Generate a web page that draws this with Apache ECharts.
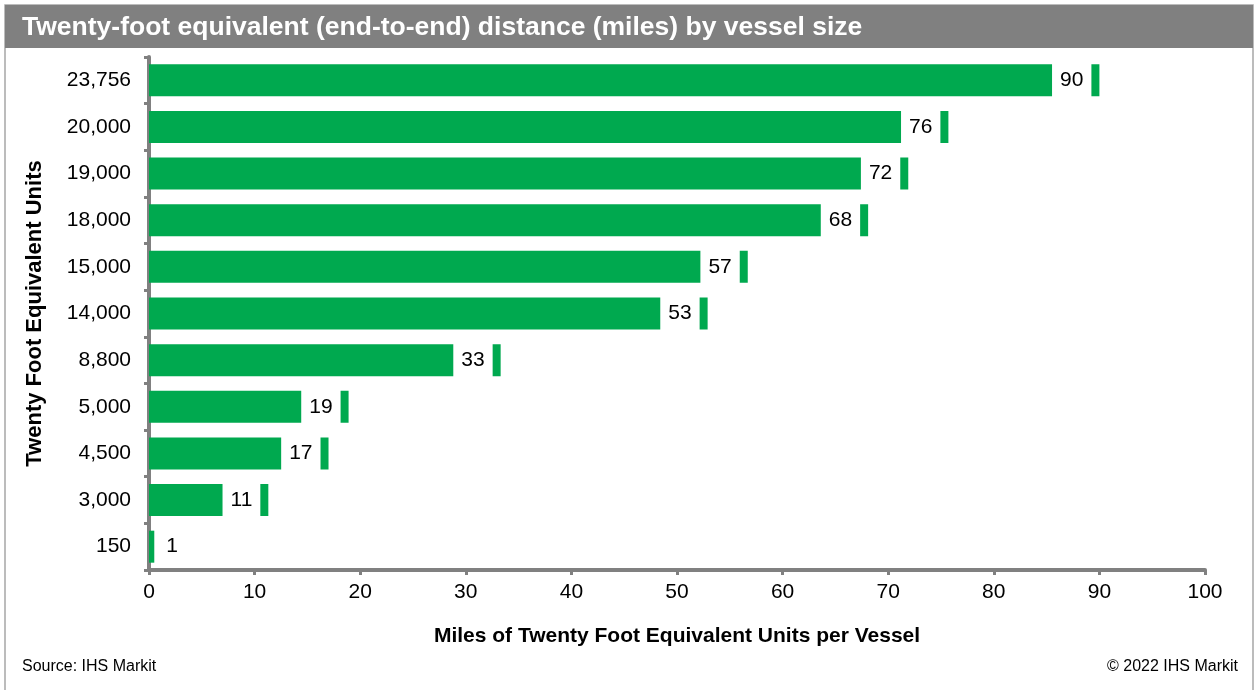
<!DOCTYPE html>
<html>
<head>
<meta charset="utf-8">
<script src="https://cdn.jsdelivr.net/npm/echarts@6/dist/echarts.min.js"></script>
<style>
html,body{margin:0;padding:0;background:#fff;}
#chart{width:1259px;height:690px;}
</style>
</head>
<body>
<div id="chart"></div>
<script>
const titleText = 'Twenty-foot equivalent (end-to-end) distance (miles) by vessel size';
const categories = ['23,756','20,000','19,000','18,000','15,000','14,000','8,800','5,000','4,500','3,000','150'];
const milesValues = [90.0, 75.7, 71.9, 68.1, 56.7, 52.9, 33.3, 18.9, 17.0, 11.3, 0.5];
const xTicks = {min: 0, max: 100, interval: 10};
const xAxisName = 'Miles of Twenty Foot Equivalent Units per Vessel';
const yAxisName = 'Twenty Foot Equivalent Units';
const sourceText = 'Source: IHS Markit';
const copyrightText = '\u00A9 2022 IHS Markit';

const FONT = '"Liberation Sans", Arial, sans-serif';
const chart = echarts.init(document.getElementById('chart'), null, {renderer: 'canvas'});

const seriesData = milesValues.map(function (v) {
  if (v < 3) {
    return {
      value: v,
      label: {position: 'right', distance: 12, backgroundColor: 'transparent', padding: 0}
    };
  }
  return v;
});

chart.setOption({
  animation: false,
  backgroundColor: '#fff',
  graphic: [
    {type: 'rect', shape: {x: 5, y: 5, width: 1248, height: 690}, style: {fill: 'none', stroke: '#a6a6a6', lineWidth: 1.5}, z: 0},
    {type: 'rect', shape: {x: 5, y: 5, width: 1248, height: 43}, style: {fill: '#808080'}, z: 0},
    {type: 'text', left: 22, top: 14, style: {text: titleText, fill: '#fff', font: 'bold 26.5px ' + FONT}, z: 1},
    {type: 'text', left: 22, top: 659, style: {text: sourceText, fill: '#000', font: '16px ' + FONT}},
    {type: 'text', right: 21, top: 659, style: {text: copyrightText, fill: '#000', font: '16px ' + FONT}}
  ],
  grid: {left: 149, right: 54, top: 57, bottom: 120, containLabel: false},
  xAxis: {
    type: 'value',
    min: xTicks.min, max: xTicks.max, interval: xTicks.interval,
    name: xAxisName,
    nameLocation: 'middle',
    nameGap: 56,
    nameTextStyle: {fontFamily: FONT, fontWeight: 'bold', fontSize: 21, color: '#000'},
    axisLine: {show: true, lineStyle: {color: '#808080', width: 4}},
    axisTick: {show: true, length: 5, lineStyle: {color: '#808080', width: 3}},
    axisLabel: {fontFamily: FONT, fontSize: 21, color: '#000', margin: 12},
    splitLine: {show: false}
  },
  yAxis: {
    type: 'category',
    data: categories,
    inverse: true,
    name: yAxisName,
    nameLocation: 'middle',
    nameGap: 103,
    nameRotate: 90,
    nameTextStyle: {fontFamily: FONT, fontWeight: 'bold', fontSize: 22, color: '#000'},
    axisLine: {show: true, lineStyle: {color: '#808080', width: 4}},
    axisTick: {show: true, length: 5, lineStyle: {color: '#808080', width: 3}},
    axisLabel: {fontFamily: FONT, fontSize: 21, color: '#000', margin: 18},
    splitLine: {show: false}
  },
  series: [{
    type: 'bar',
    data: seriesData,
    barWidth: 32,
    itemStyle: {color: '#00A94F'},
    label: {
      show: true,
      position: 'insideRight',
      distance: 8,
      formatter: function (p) { return Math.round(p.value); },
      fontFamily: FONT,
      fontSize: 21,
      color: '#000',
      backgroundColor: '#fff',
      padding: [7, 8, 7, 8]
    }
  }]
});
</script>
</body>
</html>
